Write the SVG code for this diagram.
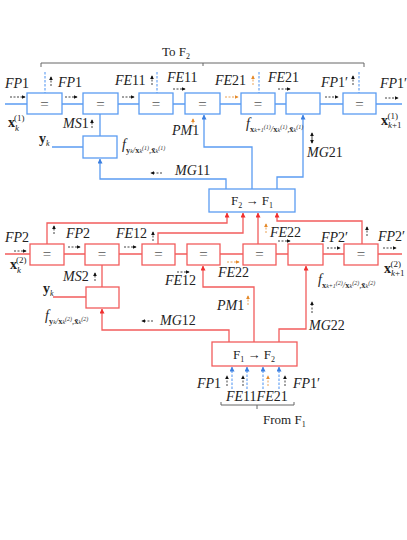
<svg xmlns="http://www.w3.org/2000/svg" width="407" height="540" viewBox="0 0 407 540">
<defs>
<style>
.b{fill:none;stroke:#5b9cf2;stroke-width:1.3}
.r{fill:none;stroke:#f25c5c;stroke-width:1.3}
.bx{fill:#fff;stroke:#5b9cf2;stroke-width:1.3}
.rx{fill:#fff;stroke:#f25c5c;stroke-width:1.3}
.bd{fill:none;stroke:#5b9cf2;stroke-width:1.1;stroke-dasharray:2.5 1.5}
.gr{fill:none;stroke:#666;stroke-width:1}
.da{fill:none;stroke:#111;stroke-width:0.8;stroke-dasharray:2 1.5;marker-end:url(#ak)}
.do{fill:none;stroke:#e58a2a;stroke-width:0.8;stroke-dasharray:2 1.5;marker-end:url(#ao)}
.t{font-family:"Liberation Serif",serif;font-size:14px;font-style:italic;fill:#222}
.n{font-style:normal}
.u{font-family:"Liberation Serif",serif;font-size:13px;fill:#222}
.eq{font-family:"Liberation Serif",serif;font-size:15px;fill:#555;text-anchor:middle}
.s{font-family:"Liberation Serif",serif;font-size:8.5px;fill:#333}
.ss{font-size:6px}
.bf{font-weight:bold;font-style:normal}
</style>
<marker id="ak" viewBox="0 0 6 6" refX="5" refY="3" markerWidth="4" markerHeight="4" orient="auto" markerUnits="userSpaceOnUse"><path d="M0,0 L6,3 L0,6 z" fill="#111"/></marker>
<marker id="ao" viewBox="0 0 6 6" refX="5" refY="3" markerWidth="4" markerHeight="4" orient="auto" markerUnits="userSpaceOnUse"><path d="M0,0 L6,3 L0,6 z" fill="#e58a2a"/></marker>
<marker id="ab" viewBox="0 0 6 6" refX="5.5" refY="3" markerWidth="5" markerHeight="5" orient="auto" markerUnits="userSpaceOnUse"><path d="M0,0 L6,3 L0,6 z" fill="#3b7fe0"/></marker>
<marker id="ar" viewBox="0 0 6 6" refX="5.5" refY="3" markerWidth="5" markerHeight="5" orient="auto" markerUnits="userSpaceOnUse"><path d="M0,0 L6,3 L0,6 z" fill="#f03030"/></marker>
</defs>

<!-- connectors -->
<g id="connectors">
  <path class="b" d="M5,104 H27 M62,104 H83 M118,104 H139 M173,104 H185 M220,104 H241 M275,104 H286 M320,104 H343 M376,104 H402"/>
  <path class="b" d="M100,114 V136 M52,147 H83"/>
  <path class="bd" d="M45,72 V93 M157,72 V93 M259,72 V93 M359,72 V93"/>
  <path class="b" d="M226,189 V179 H100 V159" marker-end="url(#ab)"/>
  <path class="b" d="M252,189 V147 H204 V115" marker-end="url(#ab)"/>
  <path class="b" d="M277,189 V177 H303 V115" marker-end="url(#ab)"/>
  <path class="r" d="M5,254 H30 M64,254 H85 M119,254 H142 M175,254 H187 M220,254 H243 M276,254 H288 M323,254 H344 M378,254 H402"/>
  <path class="r" d="M102,265 V287 M53,297 H86"/>
  <path class="r" d="M47,244 V223 H227 V213" marker-end="url(#ar)"/>
  <path class="r" d="M158,244 V233 H243 V213" marker-end="url(#ar)"/>
  <path class="r" d="M258,244 V213" marker-end="url(#ar)"/>
  <path class="r" d="M362,244 V221 H277 V213" marker-end="url(#ar)"/>
  <path class="r" d="M229,342 V330 H102 V309" marker-end="url(#ar)"/>
  <path class="r" d="M254,342 V287 H203 V266" marker-end="url(#ar)"/>
  <path class="r" d="M279,342 V329 H306 V266" marker-end="url(#ar)"/>
  <path class="bd" d="M232,389 V367" marker-end="url(#ab)"/>
  <path class="bd" d="M247,389 V367" marker-end="url(#ab)"/>
  <path class="bd" d="M263,389 V367" marker-end="url(#ab)"/>
  <path class="bd" d="M279,389 V367" marker-end="url(#ab)"/>
  <path class="gr" d="M41,67 V63 H364 V67 M203,63 V66"/>
  <path class="gr" d="M221,402 V405 H294 V402 M257,405 V409"/>
  <path class="da" d="M10,97 H25"/>
  <path class="da" d="M51,86 V77"/>
  <path class="da" d="M65,97 H77"/>
  <path class="da" d="M122,97 H134"/>
  <path class="da" d="M152,85 V76"/>
  <path class="da" d="M173,89 H185"/>
  <path class="do" d="M225,97 H238"/>
  <path class="do" d="M253,85 V76"/>
  <path class="da" d="M278,89 H290"/>
  <path class="da" d="M325,97 H338"/>
  <path class="da" d="M353,85 V76"/>
  <path class="da" d="M385,98 H398"/>
  <path class="da" d="M92,128 V120"/>
  <path class="da" d="M162,173 H151"/>
  <path class="do" d="M193,127 V119"/>
  <path class="da" d="M312,138 V133"/>
  <path class="da" d="M312,138 V143"/>
  <path class="da" d="M14,251 H26"/>
  <path class="da" d="M54,234 V226"/>
  <path class="da" d="M68,247 H80"/>
  <path class="da" d="M124,247 H136"/>
  <path class="da" d="M153,241 V232"/>
  <path class="da" d="M177,272 H189"/>
  <path class="do" d="M227,262 H239"/>
  <path class="do" d="M266,233 V224"/>
  <path class="da" d="M278,241 H290"/>
  <path class="da" d="M327,248 H340"/>
  <path class="da" d="M367,236 V227"/>
  <path class="da" d="M383,248 H396"/>
  <path class="da" d="M95,281 V273"/>
  <path class="da" d="M153,321 H142"/>
  <path class="do" d="M248,305 V296"/>
  <path class="da" d="M312,313 V302"/>
  <path class="da" d="M227,386 V376"/>
  <path class="da" d="M243,386 V376"/>
  <path class="do" d="M268,386 V376"/>
  <path class="da" d="M285,386 V376"/>
</g>

<g id="b1"><rect class="bx" x="27" y="93" width="35" height="21"/><text class="eq" x="44.5" y="109">=</text></g>
<g id="b2"><rect class="bx" x="83" y="93" width="35" height="21"/><text class="eq" x="100.5" y="109">=</text></g>
<g id="b3"><rect class="bx" x="139" y="93" width="34" height="21"/><text class="eq" x="156" y="109">=</text></g>
<g id="b4"><rect class="bx" x="185" y="93" width="35" height="21"/><text class="eq" x="202.5" y="109">=</text></g>
<g id="b5"><rect class="bx" x="241" y="93" width="34" height="21"/><text class="eq" x="258" y="109">=</text></g>
<g id="b6"><rect class="bx" x="286" y="93" width="34" height="21"/></g>
<g id="b7"><rect class="bx" x="343" y="93" width="33" height="21"/><text class="eq" x="359.5" y="109">=</text></g>
<g id="b8"><rect class="bx" x="83" y="136" width="34" height="22"/></g>
<g id="f2f1"><rect class="bx" x="209" y="189" width="86" height="23"/>
  <text class="u" x="252" y="205" text-anchor="middle" font-size="14">F<tspan font-size="8" dy="3">2</tspan><tspan dy="-3"> → F</tspan><tspan font-size="8" dy="3">1</tspan></text></g>

<g id="r1"><rect class="rx" x="30" y="244" width="34" height="21"/><text class="eq" x="47" y="259">=</text></g>
<g id="r2"><rect class="rx" x="85" y="244" width="34" height="21"/><text class="eq" x="102" y="259">=</text></g>
<g id="r3"><rect class="rx" x="142" y="244" width="33" height="21"/><text class="eq" x="158.5" y="259">=</text></g>
<g id="r4"><rect class="rx" x="187" y="244" width="33" height="21"/><text class="eq" x="203.5" y="259">=</text></g>
<g id="r5"><rect class="rx" x="243" y="244" width="33" height="21"/><text class="eq" x="259.5" y="259">=</text></g>
<g id="r6"><rect class="rx" x="288" y="244" width="35" height="21"/></g>
<g id="r7"><rect class="rx" x="344" y="244" width="34" height="21"/><text class="eq" x="361" y="259">=</text></g>
<g id="r8"><rect class="rx" x="86" y="287" width="33" height="21"/></g>
<g id="f1f2"><rect class="rx" x="212" y="342" width="85" height="24"/>
  <text class="u" x="254" y="359" text-anchor="middle" font-size="14">F<tspan font-size="8" dy="3">1</tspan><tspan dy="-3"> → F</tspan><tspan font-size="8" dy="3">2</tspan></text></g>

<g id="labels">
  <text class="u" x="162" y="56">To F<tspan font-size="8" dy="3">2</tspan></text>
  <text class="t" x="5" y="88">FP<tspan class="n">1</tspan></text>
  <text class="t" x="8" y="127"><tspan class="bf">x</tspan><tspan font-size="9" dy="4">k</tspan><tspan class="n" font-size="9" dx="-5" dy="-10">(1)</tspan></text>
  <text class="t" x="58" y="87">FP<tspan class="n">1</tspan></text>
  <text class="t" x="115" y="85">FE<tspan class="n">11</tspan></text>
  <text class="t" x="167" y="82">FE<tspan class="n">11</tspan></text>
  <text class="t" x="215" y="85">FE<tspan class="n">21</tspan></text>
  <text class="t" x="268" y="82">FE<tspan class="n">21</tspan></text>
  <text class="t" x="321" y="87">FP<tspan class="n">1′</tspan></text>
  <text class="t" x="380" y="88">FP<tspan class="n">1′</tspan></text>
  <text class="t" x="381" y="125"><tspan class="bf">x</tspan><tspan font-size="9" dy="3">k</tspan><tspan class="n" font-size="9">+1</tspan><tspan class="n" font-size="9" dx="-14" dy="-9">(1)</tspan></text>
  <text class="t" x="63" y="128">MS<tspan class="n">1</tspan></text>
  <text class="t" x="39" y="143"><tspan class="bf">y</tspan><tspan font-size="8" dy="3">k</tspan></text>
  <text class="t" x="122" y="149">f<tspan class="s" dy="4"><tspan class="bf">y</tspan><tspan class="ss" font-style="italic">k</tspan>/<tspan class="bf">x</tspan><tspan class="ss" font-style="italic">k</tspan><tspan class="ss" dy="-3">(1)</tspan><tspan dy="3">,</tspan><tspan class="bf">x̄</tspan><tspan class="ss" font-style="italic">k</tspan><tspan class="ss" dy="-3">(1)</tspan></tspan></text>
  <text class="t" x="172" y="135">PM<tspan class="n">1</tspan></text>
  <text class="t" x="175" y="175">MG<tspan class="n">11</tspan></text>
  <text class="t" x="246" y="128">f<tspan class="s" dy="4"><tspan class="bf">x</tspan><tspan class="ss" font-style="italic">k+1</tspan><tspan class="ss" dy="-3">(1)</tspan><tspan dy="3">/</tspan><tspan class="bf">x</tspan><tspan class="ss" font-style="italic">k</tspan><tspan class="ss" dy="-3">(1)</tspan><tspan dy="3">,</tspan><tspan class="bf">x̄</tspan><tspan class="ss" font-style="italic">k</tspan><tspan class="ss" dy="-3">(1)</tspan></tspan></text>
  <text class="t" x="307" y="157">MG<tspan class="n">21</tspan></text>

  <text class="t" x="5" y="242">FP<tspan class="n">2</tspan></text>
  <text class="t" x="10" y="269"><tspan class="bf">x</tspan><tspan font-size="9" dy="4">k</tspan><tspan class="n" font-size="9" dx="-5" dy="-10">(2)</tspan></text>
  <text class="t" x="66" y="238">FP<tspan class="n">2</tspan></text>
  <text class="t" x="116" y="238">FE<tspan class="n">12</tspan></text>
  <text class="t" x="165" y="285">FE<tspan class="n">12</tspan></text>
  <text class="t" x="218" y="277">FE<tspan class="n">22</tspan></text>
  <text class="t" x="270" y="237">FE<tspan class="n">22</tspan></text>
  <text class="t" x="321" y="242">FP<tspan class="n">2′</tspan></text>
  <text class="t" x="378" y="241">FP<tspan class="n">2′</tspan></text>
  <text class="t" x="384" y="273"><tspan class="bf">x</tspan><tspan font-size="9" dy="3">k</tspan><tspan class="n" font-size="9">+1</tspan><tspan class="n" font-size="9" dx="-14" dy="-9">(2)</tspan></text>
  <text class="t" x="63" y="281">MS<tspan class="n">2</tspan></text>
  <text class="t" x="43" y="293"><tspan class="bf">y</tspan><tspan font-size="8" dy="3">k</tspan></text>
  <text class="t" x="45" y="320">f<tspan class="s" dy="4"><tspan class="bf">y</tspan><tspan class="ss" font-style="italic">k</tspan>/<tspan class="bf">x</tspan><tspan class="ss" font-style="italic">k</tspan><tspan class="ss" dy="-3">(2)</tspan><tspan dy="3">,</tspan><tspan class="bf">x̄</tspan><tspan class="ss" font-style="italic">k</tspan><tspan class="ss" dy="-3">(2)</tspan></tspan></text>
  <text class="t" x="160" y="325">MG<tspan class="n">12</tspan></text>
  <text class="t" x="217" y="310">PM<tspan class="n">1</tspan></text>
  <text class="t" x="318" y="284">f<tspan class="s" dy="4"><tspan class="bf">x</tspan><tspan class="ss" font-style="italic">k+1</tspan><tspan class="ss" dy="-3">(2)</tspan><tspan dy="3">/</tspan><tspan class="bf">x</tspan><tspan class="ss" font-style="italic">k</tspan><tspan class="ss" dy="-3">(2)</tspan><tspan dy="3">,</tspan><tspan class="bf">x̄</tspan><tspan class="ss" font-style="italic">k</tspan><tspan class="ss" dy="-3">(2)</tspan></tspan></text>
  <text class="t" x="309" y="330">MG<tspan class="n">22</tspan></text>

  <text class="t" x="197" y="388">FP<tspan class="n">1</tspan></text>
  <text class="t" x="293" y="388">FP<tspan class="n">1′</tspan></text>
  <text class="t" x="226" y="401">FE<tspan class="n">11</tspan>FE<tspan class="n">21</tspan></text>
  <text class="u" x="263" y="424">From F<tspan font-size="8" dy="3">1</tspan></text>
</g>
</svg>
